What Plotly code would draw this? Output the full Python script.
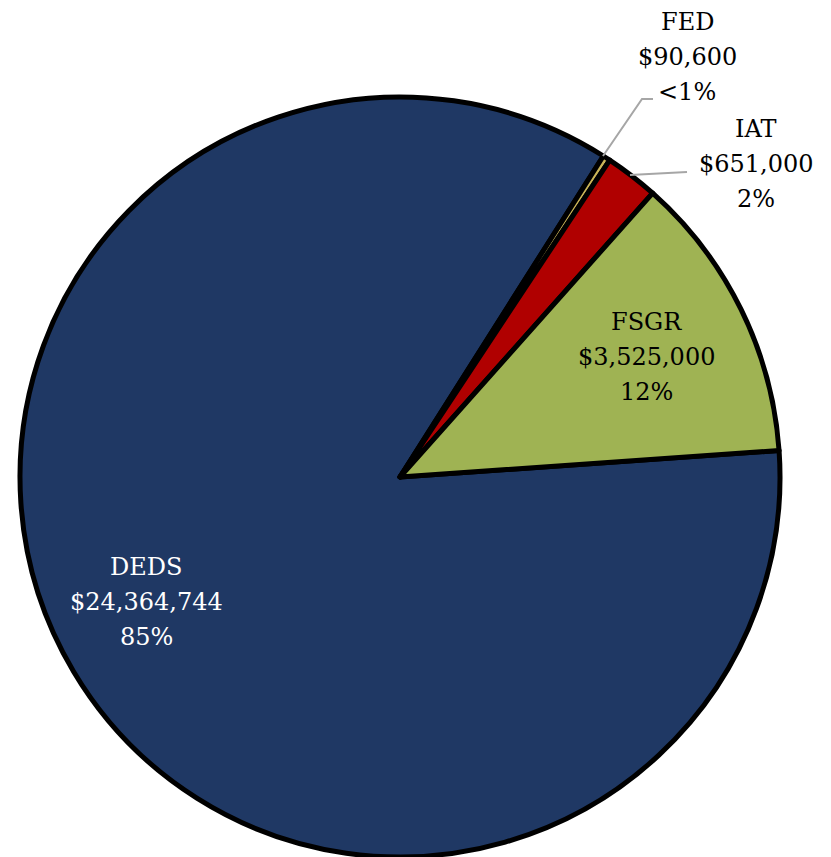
import plotly.graph_objects as go

# slice data, in drawing order (clockwise)
categories = ["DEDS", "FED", "IAT", "FSGR"]
amounts = [24364744, 90600, 651000, 3525000]
pct_labels = ["85%", "<1%", "2%", "12%"]
colors = ["#1F3864", "#C9B458", "#B00000", "#9FB353"]

W, H = 831, 857
OFF = 8  # page body margin
FONT = "DejaVu Serif"
LINE_GAP = 35


def px(x, y):
    return (x - OFF) / W, 1 - (y - OFF) / H


fig = go.Figure()
fig.add_trace(go.Pie(
    labels=categories,
    values=amounts,
    sort=False,
    direction="clockwise",
    rotation=86,
    marker=dict(colors=colors, line=dict(color="#000000", width=5)),
    textinfo="none",
    hoverinfo="label+value+percent",
    showlegend=False,
    domain=dict(x=[(20 - OFF) / W, (780 - OFF) / W],
                y=[1 - (857 - OFF) / H, 1 - (97 - OFF) / H]),
))

# label centre (pixels, middle line) and text colour per slice
label_pos = {
    "DEDS": (146, 602, "#FFFFFF"),
    "FED": (687, 57, "#000000"),
    "IAT": (756, 164, "#000000"),
    "FSGR": (646, 357, "#000000"),
}
for cat, amt, pct in zip(categories, amounts, pct_labels):
    x, y, col = label_pos[cat]
    lines = [cat, f"${amt:,}", pct]
    for i, line in enumerate(lines):
        ax, ay = px(x, y + (i - 1) * LINE_GAP)
        fig.add_annotation(
            x=ax, y=ay, xref="paper", yref="paper",
            xanchor="center", yanchor="middle",
            text=line,
            showarrow=False,
            font=dict(family=FONT, size=24, color=col),
        )

# leader lines for the small slices
leaders = [
    [(603, 156), (642, 99), (653, 99)],
    [(630, 175), (687, 172)],
]
for pts in leaders:
    path = "M " + " L ".join(f"{px(x, y)[0]},{px(x, y)[1]}" for x, y in pts)
    fig.add_shape(type="path", path=path, xref="paper", yref="paper",
                  line=dict(color="#A6A6A6", width=2))

fig.update_layout(
    width=W, height=H,
    margin=dict(l=0, r=0, t=0, b=0),
    paper_bgcolor="#FFFFFF",
    plot_bgcolor="#FFFFFF",
)

fig.write_html("out.html")
